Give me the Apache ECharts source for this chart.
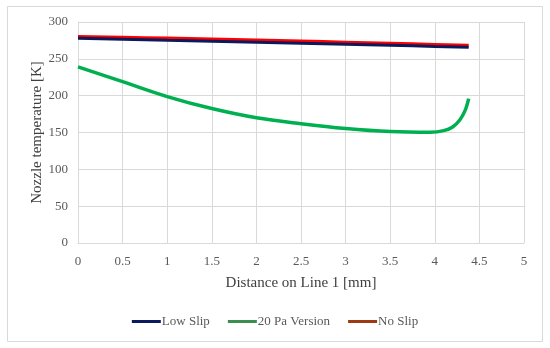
<!DOCTYPE html>
<html><head><meta charset="utf-8">
<script src="https://cdn.jsdelivr.net/npm/echarts@6/dist/echarts.min.js"></script>
<style>html,body{margin:0;padding:0;background:#fff}#c{width:550px;height:348px}</style>
</head><body><div id="c"></div>
<script>
const seriesNames = ['Low Slip', '20 Pa Version', 'No Slip'];
const lowSlip = [[0,277.8],[0.5,276.5],[1,275.2],[1.5,274],[2,272.6],[2.5,271.2],[3,269.8],[3.5,268.4],[4,266.8],[4.38,265.8]];
const paVersion = [[0,239],[0.5,219],[1,198.8],[1.5,182.5],[2,170],[2.5,162],[3,155.5],[3.5,151.3],[3.95,150.3],[4.1,152.5],[4.2,157.5],[4.28,167],[4.34,180],[4.38,196]];
const noSlip = [[0,280],[0.5,279],[1,277.8],[1.5,276.5],[2,275.2],[2.5,273.8],[3,272.3],[3.5,270.8],[4,269.2],[4.38,268]];
const xTicks = [0,0.5,1,1.5,2,2.5,3,3.5,4,4.5,5];

const font = '"Liberation Serif", "DejaVu Serif", serif';
const chart = echarts.init(document.getElementById('c'));
chart.setOption({
  animation: false,
  textStyle: {fontFamily: font},
  graphic: [{type:'rect', shape:{x:7.5,y:6.5,width:535,height:335}, style:{fill:'none',stroke:'#d9d9d9',lineWidth:1}, silent:true, z:-1}],
  grid: {left:78, right:26, top:22, bottom:105},
  xAxis: {
    type:'value', min:0, max:5, interval:0.5,
    name:'Distance on Line 1 [mm]', nameLocation:'middle', nameGap:33, nameMoveOverlap:false,
    nameTextStyle:{color:'#404040', fontSize:15, fontFamily:font},
    axisLine:{show:true, lineStyle:{color:'#d9d9d9', width:1}},
    axisTick:{show:false},
    axisLabel:{color:'#595959', fontSize:13, fontFamily:font, margin:12},
    splitLine:{show:true, lineStyle:{color:'#d9d9d9', width:1}}
  },
  yAxis: {
    type:'value', min:0, max:300, interval:50,
    name:'Nozzle temperature [K]', nameLocation:'middle', nameGap:33, nameRotate:90, nameMoveOverlap:false,
    nameTextStyle:{color:'#404040', fontSize:15, fontFamily:font},
    axisLine:{show:true, lineStyle:{color:'#d9d9d9', width:1}},
    axisTick:{show:false},
    axisLabel:{color:'#595959', fontSize:13, fontFamily:font, margin:10},
    splitLine:{show:true, lineStyle:{color:'#d9d9d9', width:1}}
  },
  legend: {
    bottom: 15, left: 'center', itemWidth: 29, itemHeight: 3, itemGap: 18,
    icon: 'rect',
    textStyle:{color:'#595959', fontSize:13, fontFamily:font, padding:[0,0,0,-4]},
    data: [
      {name: seriesNames[0], itemStyle:{color:'#0c1a5c'}},
      {name: seriesNames[1], itemStyle:{color:'#3a8f50'}},
      {name: seriesNames[2], itemStyle:{color:'#9e3a12'}}
    ]
  },
  series: [
    {name: seriesNames[0], type:'line', data: lowSlip, showSymbol:false, smooth:true, lineStyle:{color:'#0c1a5c', width:3}, itemStyle:{color:'#0c1a5c'}, z:2},
    {name: seriesNames[1], type:'line', data: paVersion, showSymbol:false, smooth:0.35, lineStyle:{color:'#00b050', width:3.5}, itemStyle:{color:'#00b050'}, z:2},
    {name: seriesNames[2], type:'line', data: noSlip, showSymbol:false, smooth:true, lineStyle:{color:'#ff0000', width:3.5}, itemStyle:{color:'#ff0000'}, z:1}
  ]
});
</script></body></html>
